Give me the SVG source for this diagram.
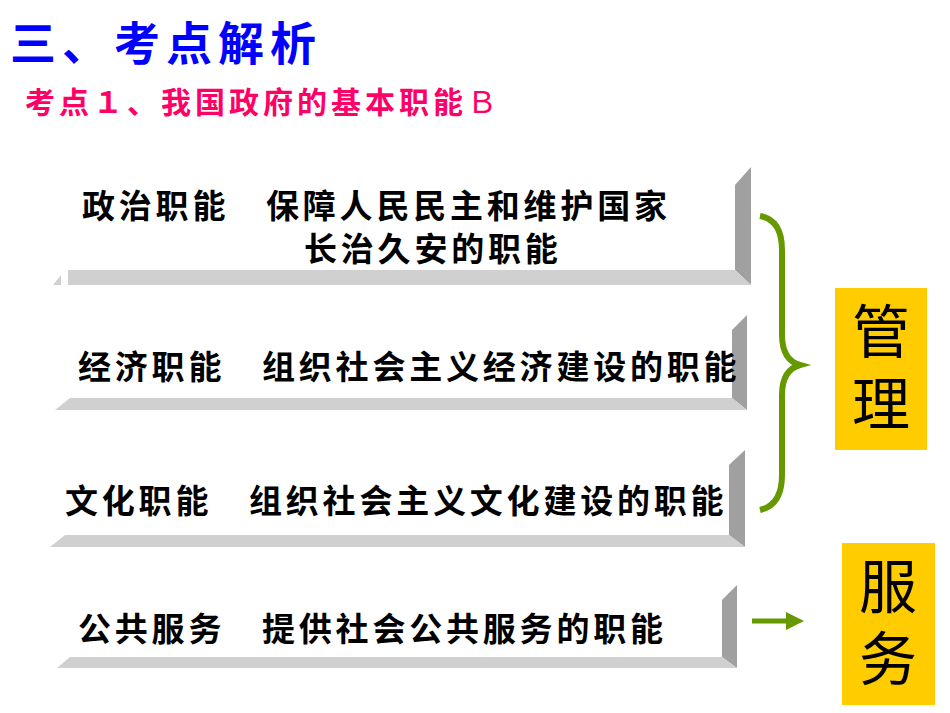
<svg xmlns="http://www.w3.org/2000/svg" width="950" height="713" viewBox="0 0 950 713">
<style>
.t{font-family:"Liberation Sans","Noto Sans CJK SC",sans-serif;font-weight:bold;font-size:33px;letter-spacing:3.8px;fill:#000}
.side{fill:#a0a0a0}.bot{fill:#d0d0d0}
.box{fill:#ffcc00}
.big{font-family:"Noto Sans CJK SC",serif;font-size:58px;fill:#000;writing-mode:vertical-rl;letter-spacing:14px}
</style>
<rect width="950" height="713" fill="#fff"/>
<text x="10" y="60" font-family="'Noto Sans CJK SC',sans-serif" font-weight="bold" font-size="46" letter-spacing="6" fill="#0000ff">三、考点解析</text>
<text x="25" y="113" font-family="'Noto Sans CJK SC',sans-serif" font-weight="bold" font-size="30" letter-spacing="4" fill="#ff0066">考点１、我国政府的基本职能<tspan font-weight="normal">Ｂ</tspan></text>
<g id="bar1"><polygon class="side" points="735,185 751,167 751,285 735,270"/><polygon class="bot" points="68,270 735,270 751,285 68,285"/><polygon class="bot" points="61,275 61,285 53,285"/>
<text class="t" x="82" y="218">政治职能　保障人民民主和维护国家</text><text class="t" x="304" y="261">长治久安的职能</text></g>
<g id="bar2"><polygon class="side" points="732,330 747,315 747,410 732,398"/><polygon class="bot" points="70,398 732,398 747,410 55,410"/>
<text class="t" x="78" y="379">经济职能　组织社会主义经济建设的职能</text></g>
<g id="bar3"><polygon class="side" points="729,465 745,450 745,547 729,535"/><polygon class="bot" points="65,535 729,535 745,547 50,547"/>
<text class="t" x="65" y="513">文化职能　组织社会主义文化建设的职能</text></g>
<g id="bar4"><polygon class="side" points="722,600 737,585 737,668 722,657"/><polygon class="bot" points="70,657 722,657 737,668 57,668"/>
<text class="t" x="78" y="641">公共服务　提供社会公共服务的职能</text></g>
<g id="connectors">
<path d="M760,216 Q782,220 782,250 L782,335 Q782,360 800,365 Q782,370 782,395 L782,475 Q782,505 760,510" fill="none" stroke="#669900" stroke-width="6"/>
<path d="M752,621 L788,621" fill="none" stroke="#669900" stroke-width="5"/>
<polygon points="786,612 804,621 786,630" fill="#669900"/>
</g>
<g id="guanli"><rect class="box" x="835" y="288" width="92" height="162"/><text class="big" x="881" y="302">管理</text></g>
<g id="fuwu"><rect class="box" x="842" y="543" width="93" height="162"/><text class="big" x="888" y="557">服务</text></g>
</svg>
